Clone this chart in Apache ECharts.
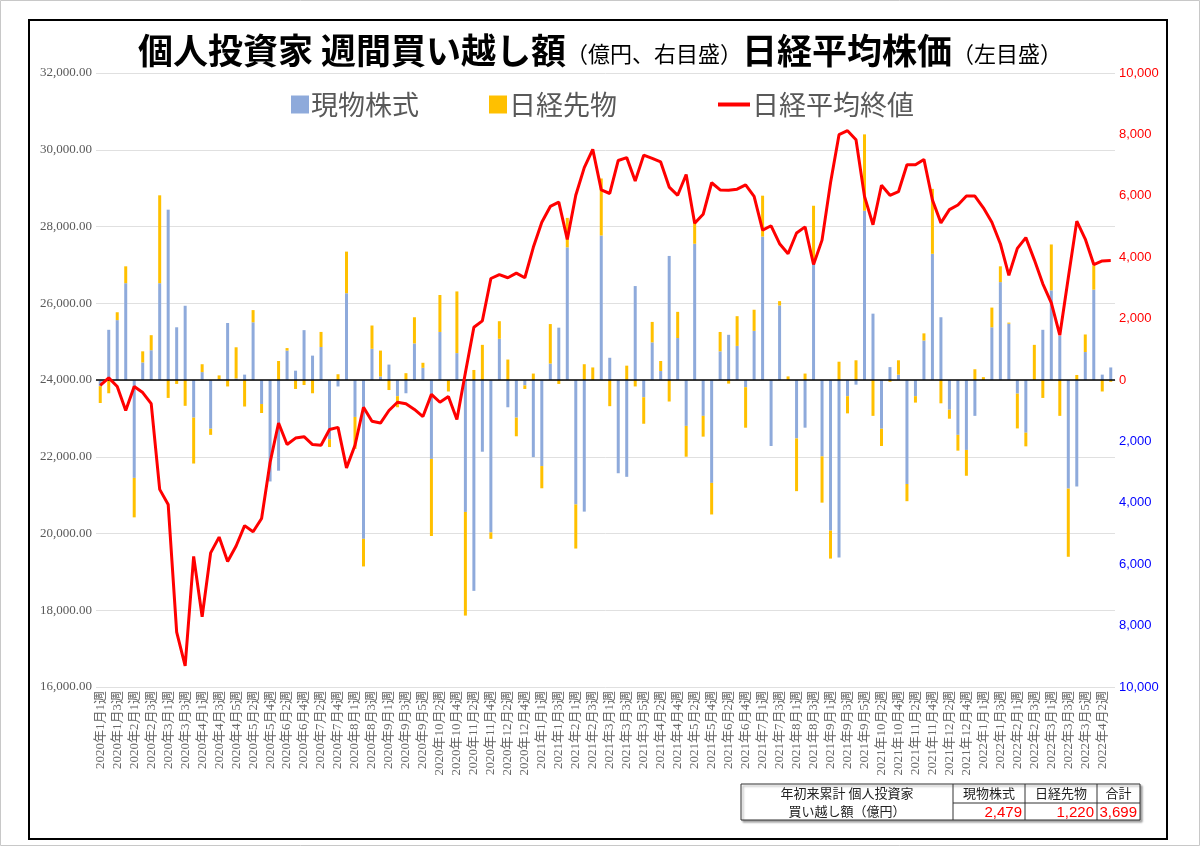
<!DOCTYPE html>
<html>
<head>
<meta charset="utf-8">
<script src="https://cdn.jsdelivr.net/npm/echarts@6/dist/echarts.min.js"></script>
<style>
html,body{margin:0;padding:0;background:#fff;}
#chart{width:1200px;height:846px;}
</style>
</head>
<body>
<div id="chart"></div>
<script>
const categories = [
"2020年1月1週","2020年1月2週","2020年1月3週","2020年1月4週","2020年2月1週","2020年2月2週","2020年2月3週","2020年2月4週",
"2020年3月1週","2020年3月2週","2020年3月3週","2020年3月4週","2020年4月1週","2020年4月2週","2020年4月3週","2020年4月4週",
"2020年4月5週","2020年5月1週","2020年5月2週","2020年5月3週","2020年5月4週","2020年6月1週","2020年6月2週","2020年6月3週",
"2020年6月4週","2020年7月1週","2020年7月2週","2020年7月3週","2020年7月4週","2020年7月5週","2020年8月1週","2020年8月2週",
"2020年8月3週","2020年8月4週","2020年9月1週","2020年9月2週","2020年9月3週","2020年9月4週","2020年9月5週","2020年10月1週",
"2020年10月2週","2020年10月3週","2020年10月4週","2020年11月1週","2020年11月2週","2020年11月3週","2020年11月4週","2020年12月1週",
"2020年12月2週","2020年12月3週","2020年12月4週","2020年12月5週",
"2021年1月1週","2021年1月2週","2021年1月3週","2021年1月4週","2021年2月1週","2021年2月2週","2021年2月3週","2021年2月4週",
"2021年3月1週","2021年3月2週","2021年3月3週","2021年3月4週","2021年3月5週","2021年4月1週","2021年4月2週","2021年4月3週",
"2021年4月4週","2021年5月1週","2021年5月2週","2021年5月3週","2021年5月4週","2021年6月1週","2021年6月2週","2021年6月3週",
"2021年6月4週","2021年6月5週","2021年7月1週","2021年7月2週","2021年7月3週","2021年7月4週","2021年8月1週","2021年8月2週",
"2021年8月3週","2021年8月4週","2021年9月1週","2021年9月2週","2021年9月3週","2021年9月4週","2021年9月5週","2021年10月1週",
"2021年10月2週","2021年10月3週","2021年10月4週","2021年11月1週","2021年11月2週","2021年11月3週","2021年11月4週","2021年12月1週",
"2021年12月2週","2021年12月3週","2021年12月4週","2021年12月5週",
"2022年1月1週","2022年1月2週","2022年1月3週","2022年1月4週","2022年2月1週","2022年2月2週","2022年2月3週","2022年2月4週",
"2022年3月1週","2022年3月2週","2022年3月3週","2022年3月4週","2022年3月5週","2022年4月1週","2022年4月2週","2022年4月3週"
];

// 現物株式 (億円)
const genbutsu = [
-200,1635,1950,3154,-3189,572,970,3154,5548,1717,2418,-1226,257,-1588,20,1857,
50,175,1880,-783,-3305,-2955,958,304,1624,794,1075,-1927,-210,2827,-1203,-5174,
1016,117,502,-526,-432,1191,397,-2570,1565,0,876,-4298,-6868,-2336,-4964,1343,
-888,-1226,-175,-2511,-2803,537,1705,4322,-4053,-4287,0,4707,724,-3037,-3154,3060,
-561,1226,292,4041,1367,-1495,4438,-1168,-3352,934,1472,1110,-234,1600,4672,-2149,
2429,0,-1904,-1553,3854,-2488,-4906,-5782,-526,-152,5513,2161,-1588,420,175,-3387,
-526,1285,4111,2044,-969,-1787,-2278,-1168,0,1717,3189,1834,-444,-1717,0,1635,
2920,1437,-3539,-3469,911,2943,175,409
];

// 日経先物 (億円)
const sakimono = [
-550,-432,257,549,-1285,362,490,2862,-584,-128,-841,-1495,257,-199,130,-210,
1016,-864,397,-292,0,619,82,-292,-164,-432,491,-257,187,1355,-1040,-899,
759,841,-327,-362,222,853,164,-2511,1203,-374,2009,-3376,327,1145,-210,572,
666,-607,-117,210,-724,1285,-128,958,-1437,514,409,1857,-853,0,467,-210,
-864,666,327,-701,853,-1004,701,-677,-1028,631,-117,969,-1320,689,1332,0,
140,117,-1717,210,1822,-1507,-911,596,-561,642,2488,-1168,-561,-58,467,-561,
-210,234,2114,-759,-292,-514,-841,350,93,642,514,35,-1133,-444,1145,-584,
1495,-1168,-2219,164,572,794,-374,-58
];

// 日経平均終値 (円)
const nikkei = [
23860,24056,23832,23206,23832,23673,23383,21150,20757,17430,16551,19402,17832,19495,19906,19271,
19673,20206,20047,20392,21850,22878,22318,22486,22523,22318,22299,22710,22766,21710,22299,23290,
22925,22878,23206,23420,23383,23234,23047,23626,23420,23570,22972,24187,25374,25542,26645,26748,
26664,26785,26664,27458,28112,28523,28636,27664,28813,29533,30009,28953,28860,29720,29795,29187,
29860,29776,29682,29028,28813,29355,28084,28318,29140,28953,28944,28972,29084,28785,27907,28019,
27551,27290,27832,27991,27009,27645,29140,30393,30496,30262,28785,28047,29075,28813,28907,29608,
29608,29748,28692,28094,28439,28561,28794,28794,28486,28112,27551,26729,27430,27710,27131,26505,
26009,25168,26664,28140,27673,27009,27103,27112
];

const seriesNames = ["現物株式", "日経先物", "日経平均終値"];
const tableHeaders = ["現物株式", "日経先物", "合計"];
const tableValues = ["2,479", "1,220", "3,699"];
const tableLabel = ["年初来累計 個人投資家", "買い越し額（億円）"];

const leftMin = 16000, leftMax = 32000, leftStep = 2000;
const rightMin = -10000, rightMax = 10000, rightStep = 2000;

const chart = echarts.init(document.getElementById('chart'), null, {renderer: 'canvas'});

const tblX = [741, 953, 1025, 1097, 1140];
const tblY = [784, 803, 820];
const graphics = [
  {type:'rect', shape:{x:0.5, y:0.5, width:1199, height:845}, style:{fill:'none', stroke:'#c8c8c8', lineWidth:1}, silent:true},
  {type:'rect', shape:{x:29, y:20, width:1138, height:819}, style:{fill:'none', stroke:'#000', lineWidth:2}, silent:true},
  {type:'rect', shape:{x:tblX[0], y:tblY[0], width:tblX[4]-tblX[0], height:tblY[2]-tblY[0]}, style:{fill:'#fff', stroke:'#333', lineWidth:1, shadowColor:'rgba(0,0,0,0.35)', shadowOffsetX:2, shadowOffsetY:2, shadowBlur:2}, silent:true},
  {type:'line', shape:{x1:tblX[1], y1:tblY[0], x2:tblX[1], y2:tblY[2]}, style:{stroke:'#333', lineWidth:1}, silent:true},
  {type:'line', shape:{x1:tblX[2], y1:tblY[0], x2:tblX[2], y2:tblY[2]}, style:{stroke:'#333', lineWidth:1}, silent:true},
  {type:'line', shape:{x1:tblX[3], y1:tblY[0], x2:tblX[3], y2:tblY[2]}, style:{stroke:'#333', lineWidth:1}, silent:true},
  {type:'line', shape:{x1:tblX[1], y1:tblY[1], x2:tblX[4], y2:tblY[1]}, style:{stroke:'#333', lineWidth:1}, silent:true},
  {type:'text', x:(tblX[0]+tblX[1])/2, y:(tblY[0]+tblY[1])/2, style:{text:tableLabel[0], fill:'#222', font:'13px "Noto Sans CJK JP"', align:'center', verticalAlign:'middle'}, silent:true},
  {type:'text', x:(tblX[0]+tblX[1])/2, y:(tblY[1]+tblY[2])/2, style:{text:tableLabel[1], fill:'#222', font:'13px "Noto Sans CJK JP"', align:'center', verticalAlign:'middle'}, silent:true}
];
for (let i = 0; i < 3; i++) {
  graphics.push({type:'text', x:(tblX[i+1]+tblX[i+2])/2, y:(tblY[0]+tblY[1])/2, style:{text:tableHeaders[i], fill:'#222', font:'13px "Noto Sans CJK JP"', align:'center', verticalAlign:'middle'}, silent:true});
  graphics.push({type:'text', x:tblX[i+2]-3, y:(tblY[1]+tblY[2])/2+1, style:{text:tableValues[i], fill:'#ff0000', font:'15px "Liberation Sans"', align:'right', verticalAlign:'middle'}, silent:true});
}

const option = {
  backgroundColor: '#fff',
  animation: false,
  title: {
    left: 'center',
    top: 28,
    text: '{b|個人投資家 週間買い越し額}{s|（億円、右目盛）}{b|日経平均株価}{s|（左目盛）}',
    textStyle: {
      rich: {
        b: {fontSize: 35, fontWeight: 'bold', color: '#000', fontFamily: '"Noto Sans CJK JP"'},
        s: {fontSize: 22, fontWeight: 'normal', color: '#000', fontFamily: '"Noto Sans CJK JP"', padding:[6,0,0,0]}
      }
    }
  },
  legend: [
    {
      data: [{name: seriesNames[0], icon: 'rect'}, {name: seriesNames[1], icon: 'rect'}],
      left: 286, top: 86, itemWidth: 18, itemHeight: 18, itemGap: 70,
      textStyle: {fontSize: 27, color: '#595959', fontFamily: '"Noto Sans CJK JP"', padding:[0,0,0,-3]}
    },
    {
      data: [{name: seriesNames[2], icon: 'rect'}],
      left: 713, top: 86, itemWidth: 32, itemHeight: 4,
      textStyle: {fontSize: 27, color: '#595959', fontFamily: '"Noto Sans CJK JP"', padding:[0,0,0,-3]}
    }
  ],
  grid: {left: 96, right: 85, top: 73, bottom: 159, containLabel: false},
  xAxis: {
    type: 'category',
    data: categories,
    boundaryGap: true,
    axisLine: {show: true, lineStyle: {color: '#d9d9d9'}},
    axisTick: {show: false},
    axisLabel: {
      interval: 1, rotate: 90, margin: 4,
      color: '#666666', fontSize: 13,
      fontFamily: '"Liberation Serif", "Noto Sans CJK JP"'
    }
  },
  yAxis: [
    {
      type: 'value', min: leftMin, max: leftMax, interval: leftStep, position: 'left',
      axisLine: {show: false}, axisTick: {show: false},
      splitLine: {show: true, lineStyle: {color: '#e0e0e0', width: 1}},
      axisLabel: {
        margin: 4, color: '#595959', fontSize: 13, fontFamily: '"Liberation Serif"',
        formatter: v => v.toLocaleString('en-US', {minimumFractionDigits: 2, maximumFractionDigits: 2})
      }
    },
    {
      type: 'value', min: rightMin, max: rightMax, interval: rightStep, position: 'right',
      axisLine: {show: false}, axisTick: {show: false}, splitLine: {show: false},
      axisLabel: {
        margin: 4, fontSize: 13, fontFamily: '"Liberation Sans"',
        formatter: v => (v < 0 ? '{n|' : '{p|') + Math.abs(v).toLocaleString('en-US') + '}',
        rich: {p: {color: '#ff0000', fontSize: 13}, n: {color: '#0000ff', fontSize: 13}}
      }
    }
  ],
  series: [
    {
      name: seriesNames[0], type: 'bar', stack: 'buy', yAxisIndex: 1, barWidth: 3,
      itemStyle: {color: '#8eaadb'}, data: genbutsu,
      markLine: {
        silent: true, symbol: ['none', 'none'], label: {show: false},
        lineStyle: {color: '#000', width: 1.5, type: 'solid'},
        data: [{yAxis: 0}]
      }
    },
    {
      name: seriesNames[1], type: 'bar', stack: 'buy', yAxisIndex: 1, barWidth: 3,
      itemStyle: {color: '#ffc000'}, data: sakimono
    },
    {
      name: seriesNames[2], type: 'line', yAxisIndex: 0, data: nikkei,
      symbol: 'none', showSymbol: false, smooth: false,
      lineStyle: {color: '#ff0000', width: 3}, itemStyle: {color: '#ff0000'}, z: 5
    }
  ],
  graphic: graphics
};
chart.setOption(option);
</script>
</body>
</html>
